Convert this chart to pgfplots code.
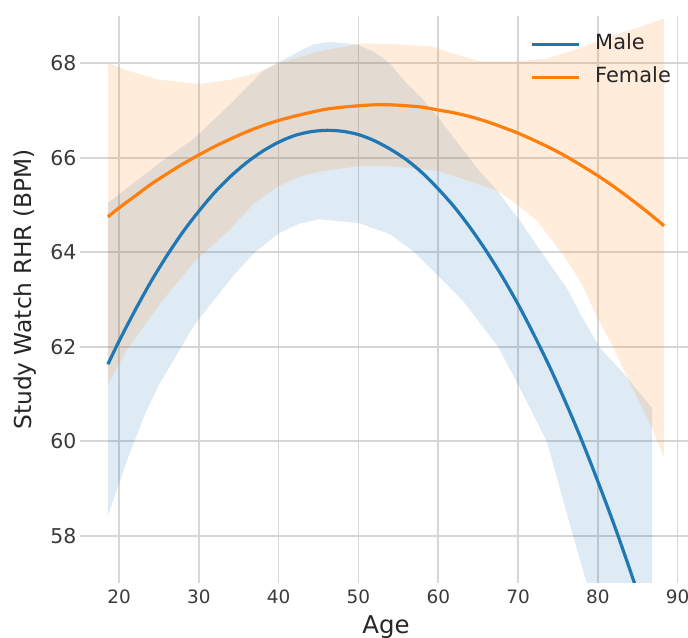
\documentclass[border=0pt]{standalone}
\usepackage{pgfplots}
\pgfplotsset{compat=1.18}
\usepackage{fontspec}
\setmainfont{DejaVu Sans}
\definecolor{tabblue}{RGB}{31,119,180}
\definecolor{taborange}{RGB}{255,127,14}
\definecolor{gridgray}{RGB}{214,214,214}
\definecolor{tickgray}{RGB}{58,58,58}
\definecolor{labelgray}{RGB}{38,38,38}
\begin{document}
\begin{tikzpicture}
\useasboundingbox (0,0) rectangle (688bp,638bp);
\begin{axis}[
  at={(80bp,55bp)}, anchor=south west,
  width=612bp, height=567bp, scale only axis,
  xmin=15.1, xmax=91.8, ymin=57, ymax=69,
  xtick={20,30,...,90}, ytick={58,60,...,68},
  axis line style={draw=none},
  tick style={draw=none},
  grid=major,
  major grid style={color=gridgray, line width=1.6bp},
  /pgf/number format/assume math mode=true,
  xticklabel style={font=\fontsize{18.5}{19}\selectfont, text=tickgray, anchor=north, yshift=-3bp},
  yticklabel style={font=\fontsize{20.5}{21}\selectfont, text=tickgray, anchor=east, xshift=0bp},
  xlabel={Age},
  ylabel={Study Watch RHR (BPM)},
  xlabel style={font=\fontsize{24.5}{25}\selectfont, text=labelgray,
    at={(axis description cs:0.5,-0.0882)}, anchor=base},
  ylabel style={font=\fontsize{23.4}{24}\selectfont, text=labelgray,
    at={(axis description cs:-0.0899,0.5176)}, anchor=center},
  legend style={draw=none, fill=none, inner sep=0pt,
    at={(0.735,0.969)}, anchor=north west,
    font=\fontsize{21}{21}\selectfont, text=labelgray,
    nodes={inner sep=0pt, text height=16bp, text depth=5bp},
    row sep=12bp,
    /tikz/every odd column/.append style={column sep=15bp}},
  legend cell align=left,
  legend image code/.code={\draw[#1] (0bp,0bp) -- (47bp,0bp);},
]
% Male confidence band
\addplot[draw=none, fill=tabblue, fill opacity=0.15, forget plot] coordinates {
(18.6,65.04) (21,65.36) (25.4,65.93) (29.5,66.42) (33.9,67.13) (38,67.83) (40.2,68.04)
(44.3,68.40) (46.4,68.45) (49.8,68.40) (51.8,68.25) (53,68.12) (54,67.98) (56.1,67.56) (58,67.25)
(60,66.85) (62.5,66.3) (65,65.75) (67.4,65.3) (70.25,64.66) (73.1,63.96) (76.1,63.24)
(78.1,62.6) (80.3,61.97) (83.3,61.42) (86.8,60.7)
(86.8,52.5) (83,54.5) (80,56.2) (78.6,57.0) (76.9,58.0) (73.6,60.0) (70,61.2) (67.5,62.0)
(63.1,62.97) (60,63.5) (57,64.0) (54,64.38) (50,64.62) (45,64.7) (42.5,64.6) (40,64.4) (37,64.0) (34.5,63.54)
(29.5,62.48) (25,61.2) (23.3,60.6) (21,59.6) (18.6,58.42)
} -- cycle;
% Female confidence band
\addplot[draw=none, fill=taborange, fill opacity=0.15, forget plot] coordinates {
(18.6,68.0) (21,67.85) (24.8,67.66) (30,67.56) (33.9,67.65) (37.3,67.8) (40,68.0)
(45,68.25) (50.6,68.42) (54.8,68.40) (59,68.36) (62,68.2) (65.2,68.04) (70,68.04)
(73.6,68.1) (77.8,68.32) (82,68.6) (85,68.75) (88.3,68.95)
(88.3,59.65) (86.8,60.28) (83.5,61.42) (82,61.97) (79.7,62.69) (78.1,63.3) (75.6,63.96)
(72.4,64.66) (70,65.0) (67.4,65.3) (64,65.5) (60,65.72) (54,65.82) (50,65.82) (45.6,65.72)
(43,65.62) (40,65.4) (37,65.05) (33.7,64.45) (29.5,63.81) (25.4,62.97) (21.1,61.97) (18.6,61.2)
} -- cycle;
% Male line
\addplot[color=tabblue, line width=3.2bp, smooth] coordinates {
(18.6,61.63) (20,62.12) (22,62.77) (24,63.38) (26,63.93) (28,64.43) (30,64.87) (32,65.27)
(34,65.61) (36,65.90) (38,66.14) (40,66.33) (42,66.47) (44,66.55) (46,66.58) (48,66.56)
(50,66.49) (52,66.36) (54,66.18) (56,65.96) (58,65.68) (60,65.34) (62,64.96) (64,64.52)
(66,64.03) (68,63.49) (70,62.90) (72,62.25) (74,61.56) (76,60.81) (78,60.01) (80,59.15)
(82,58.25) (84,57.29) (86,56.28) (86.8,55.87)
};
\addlegendentry{Male}
% Female line
\addplot[color=taborange, line width=3.2bp, smooth] coordinates {
(18.6,64.75) (20,64.94) (22,65.19) (24,65.44) (26,65.66) (28,65.87) (30,66.06) (32,66.24)
(34,66.40) (36,66.55) (38,66.68) (40,66.79) (42,66.88) (44,66.96) (46,67.03) (48,67.07)
(50,67.10) (52,67.12) (54,67.12) (56,67.10) (58,67.07) (60,67.01) (62,66.95) (64,66.87)
(66,66.77) (68,66.65) (70,66.52) (72,66.37) (74,66.21) (76,66.03) (78,65.83) (80,65.62)
(82,65.39) (84,65.14) (86,64.88) (88.3,64.56)
};
\addlegendentry{Female}
\end{axis}
\end{tikzpicture}
\end{document}
